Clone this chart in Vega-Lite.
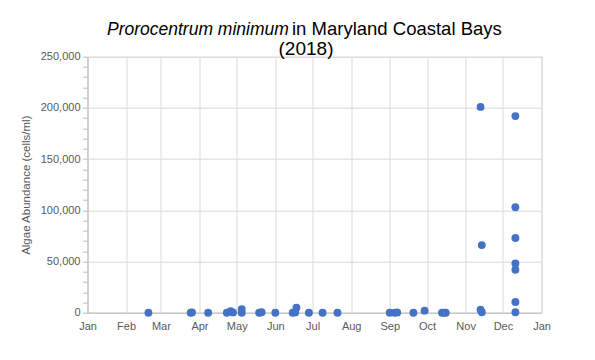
{
  "$schema": "https://vega.github.io/schema/vega-lite/v6.json",
  "autosize": {"type": "none"},
  "width": 454,
  "height": 256,
  "padding": {"left": 87.5, "top": 56.7, "right": 53.5, "bottom": 47.3},
  "background": "#ffffff",
  "title": {
    "text": "(2018)",
    "font": "Liberation Sans",
    "fontSize": 19,
    "fontWeight": "normal",
    "color": "#000000",
    "anchor": "middle",
    "frame": "group",
    "dx": -8.5,
    "offset": -40
  },
  "config": {
    "view": {"stroke": "#D9D9D9", "strokeWidth": 1},
    "axis": {
      "labelFont": "Liberation Sans",
      "labelFontSize": 11,
      "labelColor": "#595959",
      "titleFont": "Liberation Sans",
      "titleFontSize": 11.5,
      "titleFontWeight": "normal",
      "titleColor": "#595959",
      "domainColor": "#BFBFBF",
      "tickColor": "#BFBFBF",
      "gridColor": "#D9D9D9"
    }
  },
  "data": {
    "values": [
      {"date": "2018-02-19", "abundance": 0},
      {"date": "2018-03-25", "abundance": 0},
      {"date": "2018-03-26", "abundance": 300},
      {"date": "2018-04-08", "abundance": 0},
      {"date": "2018-04-23", "abundance": 0},
      {"date": "2018-04-26", "abundance": 1500},
      {"date": "2018-04-28", "abundance": 300},
      {"date": "2018-05-05", "abundance": 0},
      {"date": "2018-05-05", "abundance": 3500},
      {"date": "2018-05-19", "abundance": 0},
      {"date": "2018-05-21", "abundance": 500},
      {"date": "2018-06-01", "abundance": 0},
      {"date": "2018-06-15", "abundance": 0},
      {"date": "2018-06-17", "abundance": 300},
      {"date": "2018-06-18", "abundance": 5000},
      {"date": "2018-06-28", "abundance": 0},
      {"date": "2018-07-09", "abundance": 0},
      {"date": "2018-07-21", "abundance": 0},
      {"date": "2018-09-01", "abundance": 0},
      {"date": "2018-09-05", "abundance": 0},
      {"date": "2018-09-07", "abundance": 300},
      {"date": "2018-09-20", "abundance": 0},
      {"date": "2018-09-29", "abundance": 2000},
      {"date": "2018-10-13", "abundance": 0},
      {"date": "2018-10-15", "abundance": 0},
      {"date": "2018-10-16", "abundance": 0},
      {"date": "2018-11-13", "abundance": 201000},
      {"date": "2018-11-13", "abundance": 3000},
      {"date": "2018-11-14", "abundance": 66000},
      {"date": "2018-11-14", "abundance": 500},
      {"date": "2018-12-11", "abundance": 192000},
      {"date": "2018-12-11", "abundance": 103000},
      {"date": "2018-12-11", "abundance": 73000},
      {"date": "2018-12-11", "abundance": 48000},
      {"date": "2018-12-11", "abundance": 42000},
      {"date": "2018-12-11", "abundance": 10500},
      {"date": "2018-12-11", "abundance": 500}
    ]
  },
  "resolve": {"axis": {"x": "independent", "y": "independent"}},
  "layer": [
    {
      "mark": {"type": "circle", "size": 62, "color": "#4472C4", "opacity": 1},
      "encoding": {
        "x": {
          "field": "date",
          "type": "temporal",
          "scale": {
            "type": "utc",
            "domain": [
              {"year": 2018, "month": 1, "date": 1, "utc": true},
              {"year": 2019, "month": 1, "date": 1, "utc": true}
            ],
            "nice": false
          },
          "axis": {
            "title": null,
            "format": "%b",
            "tickCount": {"interval": "month", "step": 1},
            "ticks": false,
            "labelPadding": 8,
            "labelAlign": "center",
            "labelFlush": false,
            "labelOverlap": false,
            "grid": true
          }
        },
        "y": {
          "field": "abundance",
          "type": "quantitative",
          "scale": {"domain": [0, 250000], "nice": false, "zero": true},
          "axis": {
            "title": "Algae Abundance (cells/ml)",
            "values": [0, 10000, 20000, 30000, 40000, 50000, 60000, 70000, 80000, 90000, 100000, 110000, 120000, 130000, 140000, 150000, 160000, 170000, 180000, 190000, 200000, 210000, 220000, 230000, 240000, 250000],
            "labelExpr": "datum.value % 50000 === 0 ? format(datum.value, ',') : ''",
            "gridOpacity": {"condition": {"test": "datum.value % 50000 === 0", "value": 1}, "value": 0},
            "tickSize": 5,
            "labelPadding": 2.5,
            "titlePadding": 9,
            "labelOverlap": false
          }
        }
      }
    },
    {
      "mark": {"type": "circle", "size": 62, "opacity": 0},
      "encoding": {
        "x": {
          "field": "date",
          "type": "temporal",
          "axis": {
            "orient": "top",
            "labels": false,
            "ticks": false,
            "domain": false,
            "grid": false,
            "title": "Prorocentrum minimum",
            "titleFont": "Liberation Sans",
            "titleFontSize": 17.5,
            "titleFontStyle": "italic",
            "titleColor": "#000000",
            "titleAngle": 0,
            "titleAlign": "left",
            "titleBaseline": "alphabetic",
            "titleX": 19,
            "titleY": -22.7
          }
        },
        "y": {
          "field": "abundance",
          "type": "quantitative",
          "axis": {
            "orient": "right",
            "labels": false,
            "ticks": false,
            "domain": false,
            "grid": false,
            "title": "in Maryland Coastal Bays",
            "titleFont": "Liberation Sans",
            "titleFontSize": 18.5,
            "titleFontStyle": "normal",
            "titleColor": "#000000",
            "titleAngle": 0,
            "titleAlign": "left",
            "titleBaseline": "alphabetic",
            "titleX": -250,
            "titleY": -22.7
          }
        }
      }
    }
  ]
}
